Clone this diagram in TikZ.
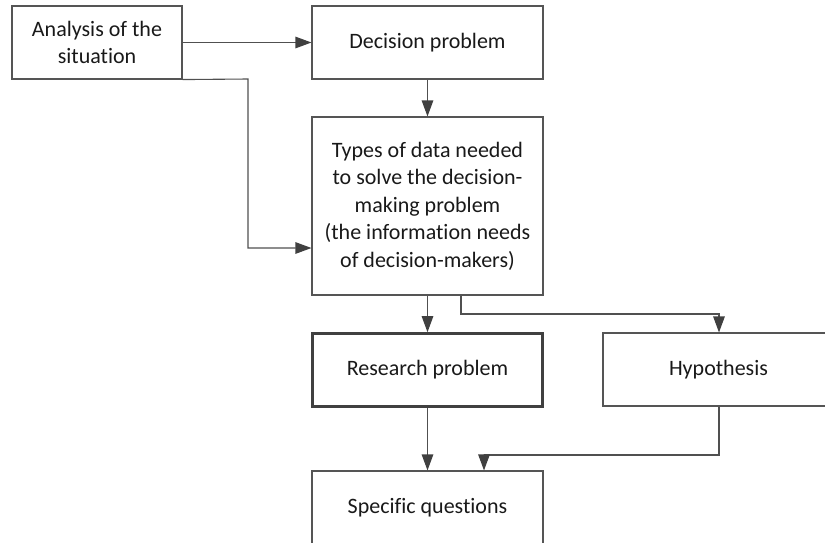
\documentclass[tikz,border=0pt]{standalone}
\usepackage{fontspec}
\setmainfont{Carlito}[Ligatures=NoCommon]
\usetikzlibrary{arrows.meta}
\definecolor{edgegray}{HTML}{555555}
\definecolor{linegray}{HTML}{505050}
\definecolor{tipgray}{HTML}{404040}
\begin{document}
\begin{tikzpicture}[x=1pt,y=-1pt,
  box/.style={draw=edgegray, line width=1.1pt, rectangle, align=center,
    inner sep=0pt, text=black!90,
    font=\fontsize{22}{27.5}\selectfont},
  keybox/.style={box, draw=tipgray, line width=2.6pt},
  conn/.style={draw=linegray, line width=1.1pt,
    -{Triangle[length=16pt,width=11.5pt,fill=tipgray,color=tipgray]}}]
\useasboundingbox (0,0) rectangle (825,542);
\clip (0,0) rectangle (825,542);

% boxes
\node[box, minimum width=170pt, minimum height=73pt] (a) at (97,42.5) {Analysis of the\\situation};
\node[box, minimum width=231pt, minimum height=73pt] (d) at (427.5,42.5) {Decision problem};
\node[box, minimum width=231pt, minimum height=178pt] (t) at (427.5,206)
  {Types of data needed\\to solve the decision-\\making problem\\(the information needs\\of decision-makers)};
\node[keybox, minimum width=230pt, minimum height=73pt] (r) at (427.5,370) {Research problem};
\node[box, minimum width=231pt, minimum height=73pt] (h) at (718.5,369.5) {Hypothesis};
\node[box, minimum width=231pt, minimum height=74pt] (s) at (427.5,508) {Specific questions};

% bend points
\coordinate (k1) at (248,79);
\coordinate (k2) at (248,248);
\coordinate (k3) at (461,314);
\coordinate (k4) at (719,314);
\coordinate (k5) at (484,455);

% connectors
\draw[conn] (a.east) -- (d.west);
\draw[conn] (a.south east) -- (k1) -- (k2) -- (t.west |- k2);
\draw[conn] (d.south) -- (t.north);
\draw[conn] (t.south) -- (r.north);
\draw[conn] (k3 |- t.south) -- (k3) -- (k4) -- (k4 |- h.north);
\draw[conn] (r.south) -- (s.north);
\draw[conn] (k4 |- h.south) |- (k5) -- (k5 |- s.north);
\end{tikzpicture}
\end{document}
